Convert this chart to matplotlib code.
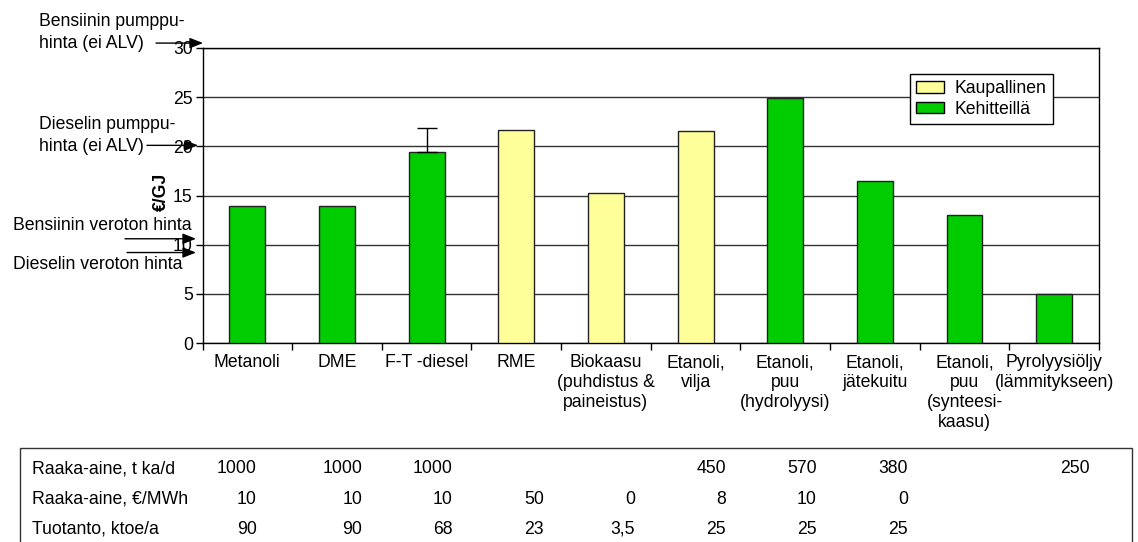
import matplotlib
matplotlib.use("Agg")
import matplotlib.pyplot as plt
import matplotlib.transforms as mtransforms
from matplotlib.patches import Patch, Rectangle

plt.rcParams['font.family'] = ['Liberation Sans', 'DejaVu Sans']

# --- data -------------------------------------------------------------
categories = [
    "Metanoli", "DME", "F-T -diesel", "RME",
    "Biokaasu\n(puhdistus &\npaineistus)", "Etanoli,\nvilja",
    "Etanoli,\npuu\n(hydrolyysi)", "Etanoli,\njätekuitu",
    "Etanoli,\npuu\n(synteesi-\nkaasu)", "Pyrolyysiöljy\n(lämmitykseen)",
]
costs = [13.9, 13.9, 19.4, 21.7, 15.3, 21.6, 24.9, 16.5, 13.0, 5.0]
commercial = [False, False, False, True, True, True, False, False, False, False]
ft_diesel_upper = 21.9          # upper end of the F-T diesel cost range

ref_labels = ["Bensiinin pumppu-\nhinta (ei ALV)", "Dieselin pumppu-\nhinta (ei ALV)",
              "Bensiinin veroton hinta", "Dieselin veroton hinta"]
ref_prices = [30.5, 20.1, 10.6, 9.2]

table_rows = ["Raaka-aine, t ka/d", "Raaka-aine, €/MWh", "Tuotanto, ktoe/a"]
feed_tons = ["1000", "1000", "1000", "", "", "450", "570", "380", "", "250"]
feed_price = ["10", "10", "10", "50", "0", "8", "10", "0", "", ""]
production = ["90", "90", "68", "23", "3,5", "25", "25", "25", "", ""]

legend_labels = ["Kaupallinen", "Kehitteillä"]
yticks = [0, 5, 10, 15, 20, 25, 30]

# --- style ------------------------------------------------------------
YELLOW = "#FFFF99"
GREEN = "#00CC00"
FS = 12.7
W, H, DPI = 1138, 542, 100

fig = plt.figure(figsize=(W / DPI, H / DPI), dpi=DPI)
ax = fig.add_axes([202.5 / W, 1 - 343 / H, 896.5 / W, 295 / H])

x = list(range(len(categories)))
colors = [YELLOW if c else GREEN for c in commercial]
ax.bar(x, costs, width=0.4, color=colors, edgecolor="#222222", linewidth=1.0, zorder=3)

# range of the F-T diesel estimate
i_ft = 2
ax.errorbar([i_ft], [costs[i_ft]], yerr=[[0], [ft_diesel_upper - costs[i_ft]]],
            fmt="none", ecolor="black", elinewidth=1, capsize=7, capthick=1, zorder=4)

ax.set_xlim(-0.5, len(categories) - 0.5)
ax.set_ylim(0, 30)
ax.set_yticks(yticks)
ax.set_yticklabels([str(t) for t in yticks], fontsize=FS)
ax.tick_params(axis="y", direction="out", length=5, width=1, pad=2)

# category labels centred, tick marks on the category boundaries
ax.set_xticks(x)
ax.set_xticklabels(categories, fontsize=FS, linespacing=1.22)
ax.tick_params(axis="x", which="major", length=0, pad=8)
ax.set_xticks([i + 0.5 for i in x[:-1]] + [-0.5, len(categories) - 0.5], minor=True)
ax.tick_params(axis="x", which="minor", direction="out", length=5, width=1)

ax.grid(axis="y", color="#333333", linewidth=1.0, zorder=0)
for s in ax.spines.values():
    s.set_color("black")
    s.set_linewidth(1.0)

handles = [Patch(facecolor=YELLOW, edgecolor="black", linewidth=1),
           Patch(facecolor=GREEN, edgecolor="black", linewidth=1)]
leg = ax.legend(handles, legend_labels, loc="upper left",
                bbox_to_anchor=((910 - 202.5) / 896.5, (343 - 74) / 295),
                borderaxespad=0, fontsize=FS, fancybox=False, framealpha=1,
                edgecolor="black", handlelength=1.6, handleheight=0.62,
                handletextpad=0.6, labelspacing=0.2, borderpad=0.35)
leg.get_frame().set_linewidth(1.0)

fig.text(161 / W, 1 - 192 / H, "€/GJ", rotation=90, fontsize=FS, fontweight="bold",
         ha="center", va="center")

# reference fuel prices pointing at the value axis
blend = mtransforms.blended_transform_factory(fig.transFigure, ax.transData)
label_pos = [(39, 21.7), (39, 124.5), (13, 226), (13, 265)]
line_step = 21.6
tails = [156, 147, 125, 127]
tips = [203, 198, 196, 196]
for lab, price, (lx, ly), tail, tip in zip(ref_labels, ref_prices, label_pos, tails, tips):
    for k, line in enumerate(lab.split("\n")):
        fig.text(lx / W, 1 - (ly + k * line_step) / H, line, fontsize=FS,
                 ha="left", va="center")
    ax.annotate("", xy=(tip / W, price), xycoords=blend,
                xytext=(tail / W, price), textcoords=blend,
                arrowprops=dict(arrowstyle="-|>,head_length=0.8,head_width=0.32",
                                mutation_scale=10, color="black", lw=1.0,
                                shrinkA=0, shrinkB=0),
                annotation_clip=False)

# data table below the chart
fig.patches.append(Rectangle((20 / W, -0.05), (1132 - 20) / W, 0.05 + 1 - 448 / H,
                             transform=fig.transFigure, fill=False,
                             edgecolor="#333333", linewidth=1.0))
col_x = [257] + [362 + 91 * k for k in range(9)]
row_baseline = [473, 504, 534]
for name, values, ry in zip(table_rows, [feed_tons, feed_price, production], row_baseline):
    fig.text(32 / W, 1 - ry / H, name, fontsize=FS, ha="left", va="baseline")
    for cx, v in zip(col_x, values):
        if v:
            fig.text(cx / W, 1 - ry / H, v, fontsize=FS, ha="right", va="baseline")

fig.savefig("out.png", dpi=DPI)
